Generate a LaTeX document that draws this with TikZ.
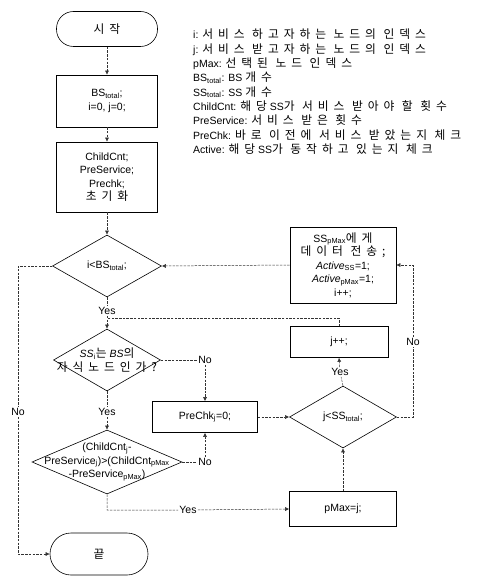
\documentclass[tikz,border=0pt]{standalone}
\usepackage{fontspec}
\setmainfont{Liberation Sans}
\newfontfamily\kr[Scale=1.12,LetterSpace=42]{Noto Sans CJK KR}
\usetikzlibrary{shapes.geometric,arrows.meta}
\newcommand{\lo}[1]{\textsubscript{#1}}

\begin{document}
\begin{tikzpicture}[x=1pt,y=-1pt,
    font=\fontsize{10.5}{13.5}\selectfont,
    box/.style={draw,line width=0.6pt,minimum width=101pt,align=center,inner sep=1pt},
    term/.style={box,rounded corners=17pt},
    cond/.style={draw,line width=0.6pt,diamond,inner sep=0pt},
    link/.style={line width=0.5pt,black!80,dash pattern=on 2.5pt off 1.2pt,-{Latex[length=4pt,width=4pt]}},
    flow/.style={link,-},
    tag/.style={fill=white,inner sep=1pt}]
    \useasboundingbox (0,0) rectangle (485,577);

    \node[term,minimum height=35pt] (start) at (107,29) {{\kr 시작}};
    \node[box,minimum height=52pt] (init1) at (107,101) {BS\lo{total};\\ i=0, j=0;};
    \node[box,minimum height=70pt] (init2) at (107,177) {ChildCnt;\\ PreService;\\ Prechk;\\ {\kr 초기화}};
    \node[cond,minimum width=109pt,minimum height=62pt,label={center:i<BS\lo{total};}] (d1) at (107,266) {};
    \node[cond,minimum width=107pt,minimum height=62pt,
        label={[align=center]center:\textit{SS}\lo{i}{\kr 는} \textit{BS}{\kr 의}\\ {\kr 자식노드인가?}}] (d2) at (107,360) {};
    \node[cond,minimum width=150pt,minimum height=64pt,
        label={[align=center]center:(ChildCnt\lo{j}-\\ PreService\lo{j})>(ChildCnt\lo{pMax}\\ -PreService\lo{pMax})}] (d3) at (107,462) {};
    \node[term,minimum width=98pt,minimum height=42pt,rounded corners=21pt] (stop) at (99,554) {{\kr 끝}};

    \node[box,minimum width=106pt,minimum height=76pt] (send) at (343,265)
        {SS\lo{pMax}{\kr 에게}\\ {\kr 데이터 전송;}\\ \textit{Active}\lo{SS}=1;\\ \textit{Active}\lo{pMax}=1;\\ i++;};
    \node[box,minimum width=98pt,minimum height=31pt] (jinc) at (339,342) {j++;};
    \node[cond,minimum width=107pt,minimum height=62pt,label={center:j<SS\lo{total};}] (d4) at (343,417) {};
    \node[box,minimum width=105pt,minimum height=31pt] (prechk) at (205,417) {PreChk\lo{j}=0;};
    \node[box,minimum width=107pt,minimum height=35pt] (pmax) at (343,509) {pMax=j;};

    \node[anchor=north west,align=left,inner sep=0pt,font=\fontsize{10.5}{14.3}\selectfont] (legend) at (193,29)
        {i: {\kr 서비스 하고자하는 노드의 인덱스}\\
        j: {\kr 서비스 받고자하는 노드의 인덱스}\\
        pMax: {\kr 선택된 노드 인덱스}\\
        BS\lo{total}: BS {\kr 개수}\\
        SS\lo{total}: SS {\kr 개수}\\
        ChildCnt: {\kr 해당} SS{\kr 가 서비스 받아야 할 횟수}\\
        PreService: {\kr 서비스 받은 횟수}\\
        PreChk: {\kr 바로 이전에 서비스 받았는지 체크}\\
        Active: {\kr 해당} SS{\kr 가 동작하고 있는지 체크}};

    \node[tag] (yes1) at (107,311) {Yes};
    \node[tag] (yes2) at (107,412) {Yes};
    \node[tag] (yes3) at (188,510) {Yes};
    \node[tag] (yes4) at (340,372) {Yes};
    \node[tag] (no1) at (18,412) {No};
    \node[tag] (no2) at (205,360) {No};
    \node[tag] (no3) at (205,462) {No};
    \node[tag] (no4) at (413,342) {No};
    \coordinate (join) at (107,318);

    \draw[link] (start) -- (init1);
    \draw[link] (init1) -- (init2);
    \draw[link] (init2) -- (d1);
    \draw[link] (d1.south) -- (yes1) -- (d2.north);
    \draw[link] (d2.south) -- (yes2) -- (d3.north);
    \draw[link] (d1.west) -| (no1) |- (stop.west);
    \draw[flow] (d2.east) -- (no2);
    \draw[link] (no2) -- (prechk.north);
    \draw[link] (d3.east) -- (no3) -- (prechk.south);
    \draw[link] (d3.south) |- (yes3) -- (pmax.west);
    \draw[link] (pmax.north) -- (d4.south);
    \draw[link] (prechk.east) -- (d4.west);
    \draw[link] (d4.north) -- (yes4) -- (jinc.south);
    \draw[flow] (jinc.north) |- (join);
    \draw[link] (d4.east) -| (no4) |- (send.east);
    \draw[link] (send.west) -- (d1.east);
\end{tikzpicture}
\end{document}
